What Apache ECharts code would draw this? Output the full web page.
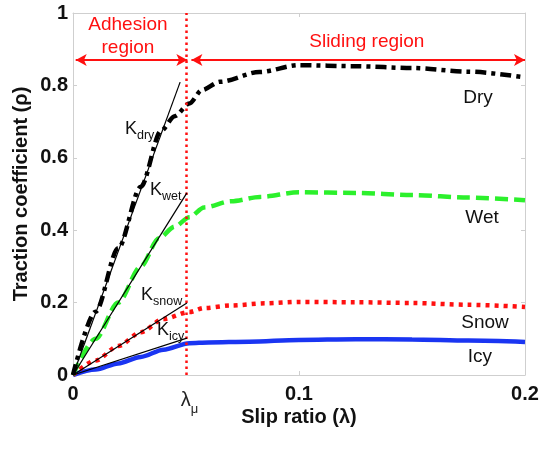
<!DOCTYPE html>
<html>
<head>
<meta charset="utf-8">
<script src="https://cdn.jsdelivr.net/npm/echarts@6/dist/echarts.min.js"></script>
<style>html,body{margin:0;padding:0;background:#fff;}#c{width:540px;height:449px;}</style>
</head>
<body>
<div id="c"></div>
<script>
// ---- data ----
const lambdaMu = 0.0515;
const xTickValues = [0, lambdaMu, 0.1, 0.2];
const yTickLabels = ['0', '0.2', '0.4', '0.6', '0.8', '1'];

const dryX = [0, 0.01, 0.02, 0.03, 0.039, 0.045, 0.0515, 0.057, 0.065, 0.0825, 0.1, 0.125, 0.15, 0.175, 0.2];
const dryY = [0, 0.175, 0.35, 0.52, 0.675, 0.715, 0.75, 0.787, 0.81, 0.837, 0.856, 0.853, 0.848, 0.838, 0.822];

const wetX = [0, 0.01, 0.02, 0.03, 0.038, 0.045, 0.0515, 0.058, 0.07, 0.0827, 0.1, 0.125, 0.15, 0.175, 0.2];
const wetY = [0, 0.1, 0.2, 0.3, 0.378, 0.41, 0.436, 0.463, 0.48, 0.492, 0.505, 0.503, 0.497, 0.49, 0.483];

const snowX = [0, 0.01, 0.02, 0.03, 0.04, 0.0515, 0.058, 0.07, 0.085, 0.1, 0.125, 0.15, 0.175, 0.2];
const snowY = [0, 0.04, 0.08, 0.118, 0.155, 0.174, 0.185, 0.192, 0.198, 0.202, 0.201, 0.199, 0.194, 0.188];

const icyX = [0, 0.01, 0.02, 0.03, 0.04, 0.0515, 0.06, 0.078, 0.1, 0.125, 0.15, 0.175, 0.2];
const icyY = [0, 0.015, 0.032, 0.05, 0.07, 0.088, 0.09, 0.092, 0.097, 0.099, 0.098, 0.095, 0.091];

// initial-slope (K) lines: [end slip, end traction]
const kDryEnd = [0.0474, 0.809];
const kWetEnd = [0.0504, 0.503];
const kSnowEnd = [0.0504, 0.199];
const kIcyEnd = [0.0504, 0.102];

const roadLabels = ['Dry', 'Wet', 'Snow', 'Icy'];
const kSubs = ['dry', 'wet', 'snow', 'icy'];

// ---- chart ----
const FONT = "'Liberation Sans', Arial, Helvetica, sans-serif";
const GREY = '#cfcfcf';
const RED = '#ff1010';
const zip = (xs, ys) => xs.map((x, i) => [x, ys[i]]);

const chart = echarts.init(document.getElementById('c'), null, {renderer: 'canvas'});

const curve = (name, xs, ys, color, type, width) => ({
  name, type: 'line', data: zip(xs, ys), showSymbol: false, symbol: 'none',
  smooth: 0.3, smoothMonotone: 'x', silent: true, animation: false,
  lineStyle: {color, width, type, cap: 'butt'}
});
const kLine = (end) => ({
  type: 'line', data: [[0, 0], end], symbol: 'none', silent: true, animation: false,
  lineStyle: {color: '#000', width: 1.2}, z: 5
});

chart.setOption({
  animation: false,
  backgroundColor: '#fff',
  grid: {left: 73, right: 15, top: 13, bottom: 74, outerBoundsMode: 'none', containLabel: false},
  xAxis: [{
    type: 'value', min: 0, max: 0.2,
    name: 'Slip ratio (λ)', nameLocation: 'middle', nameGap: 32, nameMoveOverlap: false,
    nameTextStyle: {fontFamily: FONT, fontSize: 20, fontWeight: 'bold', color: '#111'},
    splitLine: {show: false},
    axisLine: {show: true, onZero: false, lineStyle: {color: GREY, width: 1}},
    axisTick: {show: true, inside: true, length: 4, customValues: [0, 0.1, 0.2], lineStyle: {color: GREY}},
    axisLabel: {
      customValues: xTickValues, margin: 9, fontFamily: FONT, color: '#111',
      formatter: (v) => Math.abs(v - lambdaMu) < 1e-9 ? '{l|λ}{m|μ}' : '{b|' + (v === 0 ? '0' : String(v)) + '}',
      rich: {
        b: {fontFamily: FONT, fontSize: 20, fontWeight: 'bold', color: '#111'},
        l: {fontFamily: FONT, fontSize: 20, color: '#222', lineHeight: 26, verticalAlign: 'bottom'},
        m: {fontFamily: FONT, fontSize: 13, color: '#222', lineHeight: 16, verticalAlign: 'bottom', padding: [0, 0, -6, 0]}
      }
    }
  }, {
    type: 'value', min: 0, max: 0.2, position: 'top',
    splitLine: {show: false},
    axisLine: {show: true, onZero: false, lineStyle: {color: GREY, width: 1}},
    axisTick: {show: true, inside: true, length: 4, customValues: [0.1], lineStyle: {color: GREY}},
    axisLabel: {show: false}
  }],
  yAxis: [{
    type: 'value', min: 0, max: 1, interval: 0.2,
    name: 'Traction coefficient (ρ)', nameLocation: 'middle', nameGap: 42, nameMoveOverlap: false,
    nameTextStyle: {fontFamily: FONT, fontSize: 20, fontWeight: 'bold', color: '#111'},
    splitLine: {show: false},
    axisLine: {show: true, onZero: false, lineStyle: {color: GREY, width: 1}},
    axisTick: {show: true, inside: true, length: 4, lineStyle: {color: GREY}},
    axisLabel: {
      margin: 5, fontFamily: FONT, fontSize: 20, fontWeight: 'bold', color: '#111',
      formatter: (v) => yTickLabels[Math.round(v / 0.2)]
    }
  }, {
    type: 'value', min: 0, max: 1, interval: 0.2, position: 'right',
    splitLine: {show: false},
    axisLine: {show: true, onZero: false, lineStyle: {color: GREY, width: 1}},
    axisTick: {show: true, inside: true, length: 4, lineStyle: {color: GREY}},
    axisLabel: {show: false}
  }],
  series: [
    curve('Icy', icyX, icyY, '#1a35f2', 'solid', 4.5),
    curve('Snow', snowX, snowY, RED, [4, 5], 4.5),
    curve('Wet', wetX, wetY, '#2cf02c', [13, 6], 4.5),
    Object.assign(curve('Dry', dryX, dryY, '#000', [11, 5, 4, 5], 4.5), {
      markLine: {
        silent: true, animation: false, symbol: ['none', 'none'], label: {show: false},
        lineStyle: {color: RED, width: 2.5, type: [2.5, 3.5]},
        data: [{xAxis: lambdaMu}]
      }
    }),
    kLine(kDryEnd), kLine(kWetEnd), kLine(kSnowEnd), kLine(kIcyEnd),
    {
      type: 'line', data: [], silent: true,
      markLine: {
        silent: true, animation: false, symbol: ['arrow', 'arrow'], symbolSize: [9, 11],
        label: {show: false},
        lineStyle: {color: RED, width: 2, type: 'solid'},
        data: [
          [{coord: [0.0012, 0.870]}, {coord: [0.0506, 0.870]}],
          [{coord: [0.0524, 0.870]}, {coord: [0.2, 0.870]}]
        ]
      }
    }
  ]
});

// ---- text annotations placed via the chart's own scales ----
const px = (x, y) => chart.convertToPixel({xAxisIndex: 0, yAxisIndex: 0}, [x, y]);
const annotations = [];
const addText = (x, y, text, style) => {
  const p = px(x, y);
  annotations.push({type: 'text', x: p[0], y: p[1], z: 100, silent: true, style: Object.assign({text, fontFamily: FONT}, style)});
};
// road labels
const roadPos = [[0.1792, 0.765], [0.181, 0.434], [0.1823, 0.1436], [0.180, 0.0497]];
roadLabels.forEach((t, i) => addText(roadPos[i][0], roadPos[i][1], t, {fontSize: 19, fill: '#111', align: 'center', verticalAlign: 'middle'}));
// K labels
const kPos = [[0.0230, 0.685], [0.0341, 0.517], [0.0301, 0.2265], [0.0372, 0.130]];
kSubs.forEach((s, i) => addText(kPos[i][0], kPos[i][1], '{k|K}{s|' + s + '}', {
  align: 'left', verticalAlign: 'middle',
  rich: {
    k: {fontFamily: FONT, fontSize: 18, fill: '#111', lineHeight: 22, verticalAlign: 'bottom'},
    s: {fontFamily: FONT, fontSize: 12.5, fill: '#111', lineHeight: 14, verticalAlign: 'bottom', padding: [0, 0, -4, 0]}
  }
}));
// region labels
addText(0.0243, 0.935, 'Adhesion\nregion', {fontSize: 19, fill: RED, align: 'center', verticalAlign: 'middle', lineHeight: 23});
addText(0.130, 0.920, 'Sliding region', {fontSize: 19, fill: RED, align: 'center', verticalAlign: 'middle'});

chart.setOption({graphic: annotations});
</script>
</body>
</html>
